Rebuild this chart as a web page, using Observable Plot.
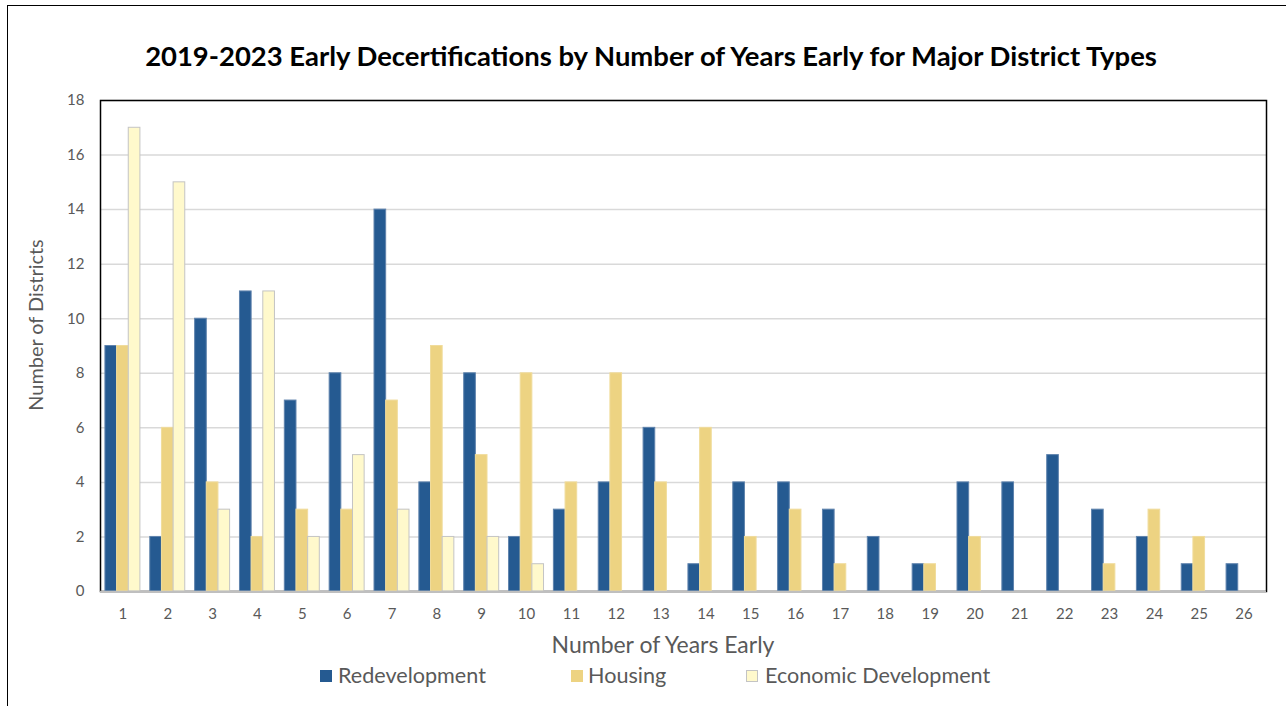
<!DOCTYPE html>
<html>
<head>
<meta charset="utf-8">
<script src="https://cdn.jsdelivr.net/npm/d3@7"></script>
<script src="https://cdn.jsdelivr.net/npm/@observablehq/plot@0.6"></script>
<style>
  html, body { margin: 0; padding: 0; background: #fff; }
  body { font-family: Lato, "Open Sans", sans-serif; }
  #wrap { position: relative; width: 1286px; height: 706px; overflow: hidden; }
  #outer { position: absolute; left: 7px; top: 5px; width: 1300px; height: 730px;
           border-left: 1.5px solid #000; border-top: 1.5px solid #000; box-sizing: border-box; }
  .layer { position: absolute; left: 0; top: 80px; }
  .t { position: absolute; white-space: nowrap; color: #595959; line-height: 1; }
  .c { transform: translate(-50%, -50%); }
  #title { left: 651px; top: 56px; font-weight: bold; font-size: 24px; color: #000; }
  #ytitle { left: 36px; top: 325px; font-size: 20px; transform: translate(-50%, -50%) rotate(-90deg); }
  #xtitle { left: 663px; top: 644px; font-size: 20px; }
  .sw { position: absolute; width: 12px; height: 12px; top: 670px; box-sizing: border-box; }
  .lg { top: 676px; font-size: 20px; transform: translateY(-50%); }
</style>
</head>
<body>
<div id="wrap">
  <div id="outer"></div>
  <div id="back" class="layer"></div>
  <div id="front" class="layer"></div>
  <div id="base" class="layer"></div>
  <div id="title" class="t c">2019-2023 Early Decertifications by Number of Years Early for Major District Types</div>
  <div id="ytitle" class="t">Number of Districts</div>
  <div id="xtitle" class="t c">Number of Years Early</div>
  <div id="legend"></div>
</div>
<script>
// ---- data ----
const years = [1, 2, 3, 4, 5, 6, 7, 8, 9, 10, 11, 12, 13, 14, 15, 16, 17, 18, 19, 20, 21, 22, 23, 24, 25, 26];
const seriesNames = ["Redevelopment", "Housing", "Economic Development"];
const redevelopment = [9, 2, 10, 11, 7, 8, 14, 4, 8, 2, 3, 4, 6, 1, 4, 4, 3, 2, 1, 4, 4, 5, 3, 2, 1, 1];
const housing       = [9, 6, 4, 2, 3, 3, 7, 9, 5, 8, 4, 8, 4, 6, 2, 3, 1, 0, 1, 2, 0, 0, 1, 3, 2, 0];
const economic      = [17, 15, 3, 11, 2, 5, 3, 2, 2, 1, 0, 0, 0, 0, 0, 0, 0, 0, 0, 0, 0, 0, 0, 0, 0, 0];
const yTicks = [0, 2, 4, 6, 8, 10, 12, 14, 16, 18];
const fills   = ["#255a91", "#edd382", "#fff9cc"];
const strokes = ["#5f83ad", "#f0dc9c", "#c4c4c4"];

// ---- table ----
const seriesValues = [redevelopment, housing, economic];
const rows = [];
years.forEach((yr, i) => {
  seriesValues.forEach((arr, j) => {
    rows.push({ year: yr, series: seriesNames[j], value: arr[i] });
  });
});

const common = {
  width: 1286,
  height: 560,
  marginTop: 20,
  marginBottom: 49,
  marginLeft: 100,
  marginRight: 20
};
const font = { fontFamily: "Lato, 'Open Sans', sans-serif", background: "transparent", overflow: "visible" };

// background: grid, frame, y axis
const back = Plot.plot({
  ...common,
  style: font,
  x: { domain: years, paddingInner: 0.22, paddingOuter: 0.11, round: false, axis: null },
  y: { domain: [0, 18], label: null },
  marks: [
    Plot.gridY(yTicks.filter(t => t > 0), { stroke: "#d9d9d9", strokeOpacity: 1, strokeWidth: 1.5 }),
    Plot.frame({ stroke: "#000", strokeWidth: 1.5 }),
    Plot.axisY(yTicks, { tickSize: 0, tickPadding: 16, fontSize: 15, color: "#595959", label: null })
  ]
});
document.getElementById("back").appendChild(back);

// foreground: grouped bars (faceted by year) and year axis
const barMarks = seriesNames.map((s, j) =>
  Plot.barY(rows.filter(d => d.series === s && d.value > 0), {
    fx: "year", x: "series", y: "value",
    fill: fills[j], stroke: strokes[j], strokeWidth: 1
  })
);
const front = Plot.plot({
  ...common,
  style: font,
  fx: { domain: years, paddingInner: 0.22, paddingOuter: 0.11, round: false, label: null },
  x: { domain: seriesNames, padding: 0, round: false, axis: null },
  y: { domain: [0, 18], axis: null },
  marks: [
    ...barMarks,
    Plot.axisFx({ anchor: "bottom", tickSize: 0, tickPadding: 17, fontSize: 15, color: "#595959", label: null })
  ]
});
document.getElementById("front").appendChild(front);

// baseline on top of the bars
const base = Plot.plot({
  ...common,
  style: font,
  x: { domain: years, axis: null },
  y: { domain: [0, 18], axis: null },
  marks: [ Plot.ruleY([0], { stroke: "#bfbfbf", strokeWidth: 1.5 }) ]
});
document.getElementById("base").appendChild(base);

// ---- legend ----
const legend = document.getElementById("legend");
const legendPos = [
  { sw: 320, tx: 338 },
  { sw: 571, tx: 588 },
  { sw: 746, tx: 765 }
];
const legendTexts = [];
seriesNames.forEach((s, j) => {
  const sw = document.createElement("div");
  sw.className = "sw";
  sw.style.left = legendPos[j].sw + "px";
  sw.style.background = fills[j];
  if (j === 2) sw.style.border = "1px solid " + strokes[j];
  legend.appendChild(sw);
  const tx = document.createElement("div");
  tx.className = "t lg";
  tx.style.left = legendPos[j].tx + "px";
  tx.textContent = s;
  legend.appendChild(tx);
  legendTexts.push(tx);
});

// fit text widths to reference
function fit(el, target) {
  const w = el.offsetWidth;
  const fs = parseFloat(getComputedStyle(el).fontSize);
  if (w > 0) el.style.fontSize = (fs * target / w) + "px";
}
fit(document.getElementById("title"), 1012);
fit(document.getElementById("ytitle"), 171);
fit(document.getElementById("xtitle"), 223);
// legend: one common size, set from the first and last entries
fit(legendTexts[0], 149);
const fs0 = parseFloat(legendTexts[0].style.fontSize);
fit(legendTexts[2], 224);
const fs2 = parseFloat(legendTexts[2].style.fontSize);
const lfs = (fs0 + fs2) / 2;
legendTexts.forEach(el => el.style.fontSize = lfs + "px");
</script>
</body>
</html>
